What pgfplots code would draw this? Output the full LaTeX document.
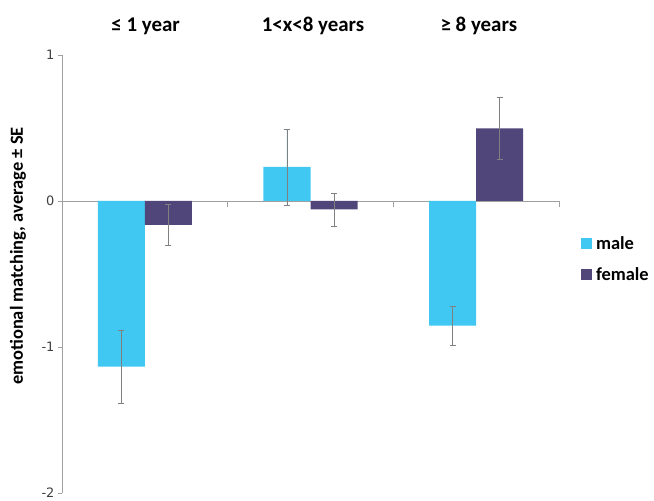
\documentclass[border=0pt]{standalone}
\usepackage{pgfplots}
\pgfplotsset{compat=1.18}
\usepackage{fontspec}
\setmainfont{Carlito}
\newfontfamily\tickfont{DejaVu Sans}
\definecolor{male}{RGB}{64,200,242}
\definecolor{female}{RGB}{80,70,122}
\definecolor{axgray}{RGB}{160,160,160}
\pgfplotsset{myerr/.style={error bars/.cd, y dir=both, y explicit,
  error bar style={draw=gray, line width=0.6bp},
  error mark options={rotate=90, mark size=3bp, draw=gray, line width=0.6bp}}}
\begin{document}
\begin{tikzpicture}
\begin{axis}[
  scale only axis, width=497bp, height=438bp,
  xmin=0.5, xmax=3.5, ymin=-2, ymax=1,
  axis y line*=left, axis x line=none,
  ytick={-2,-1,0,1}, xtick=\empty,
  y axis line style={draw=axgray,-},
  ytick style={draw=axgray},
  tick align=outside, major tick length=4bp,
  /pgf/number format/assume math mode=true,
  yticklabel style={font=\tickfont\fontsize{13}{13}\selectfont, text=black!75},
  ylabel={emotional matching, average ± SE},
  ylabel style={font=\bfseries\fontsize{18.5}{18.5}\selectfont, at={(axis description cs:-0.0885,0.541)}, anchor=center},
  clip=false,
  legend style={at={(axis description cs:1.044,0.534)}, anchor=west, draw=none, fill=none, font=\bfseries\fontsize{18.5}{18.5}\selectfont, row sep=13bp, inner sep=0pt, nodes={inner xsep=4bp}},
  legend cell align=left,
  legend image code/.code={\path[fill,#1,draw=none] (0bp,-5.5bp) rectangle (11bp,5.5bp);},
]
\draw[axgray, line width=0.8bp] (axis cs:0.5,0) -- (axis cs:3.5,0);
\draw[axgray, line width=0.8bp] (axis cs:1.5,0) -- ([yshift=-6bp]axis cs:1.5,0);
\draw[axgray, line width=0.8bp] (axis cs:2.5,0) -- ([yshift=-6bp]axis cs:2.5,0);
\draw[axgray, line width=0.8bp] (axis cs:3.5,0) -- ([yshift=-6bp]axis cs:3.5,0);
\addplot[ybar, bar width=0.284, bar shift=0, fill=male, draw=none, myerr] coordinates {
  (0.858,-1.134) +- (0,0.25)
  (1.858,0.233) +- (0,0.26)
  (2.858,-0.853) +- (0,0.134)
};
\addlegendentry{male}
\addplot[ybar, bar width=0.284, bar shift=0, fill=female, draw=none, myerr] coordinates {
  (1.142,-0.164) +- (0,0.14)
  (2.142,-0.058) +- (0,0.113)
  (3.142,0.497) +- (0,0.21)
};
\addlegendentry{female}
\node[font=\bfseries\fontsize{21}{21}\selectfont, anchor=base] at (axis cs:1.005,1.158) {≤ 1 year};
\node[font=\bfseries\fontsize{21}{21}\selectfont, anchor=base] at (axis cs:2.015,1.158) {1<x<8 years};
\node[font=\bfseries\fontsize{21}{21}\selectfont, anchor=base] at (axis cs:3.016,1.158) {≥ 8 years};
\end{axis}
\pgfresetboundingbox
\path ([shift={(-62bp,-8bp)}]current axis.south west) rectangle ([shift={(95bp,55bp)}]current axis.north east);
\end{tikzpicture}
\end{document}
